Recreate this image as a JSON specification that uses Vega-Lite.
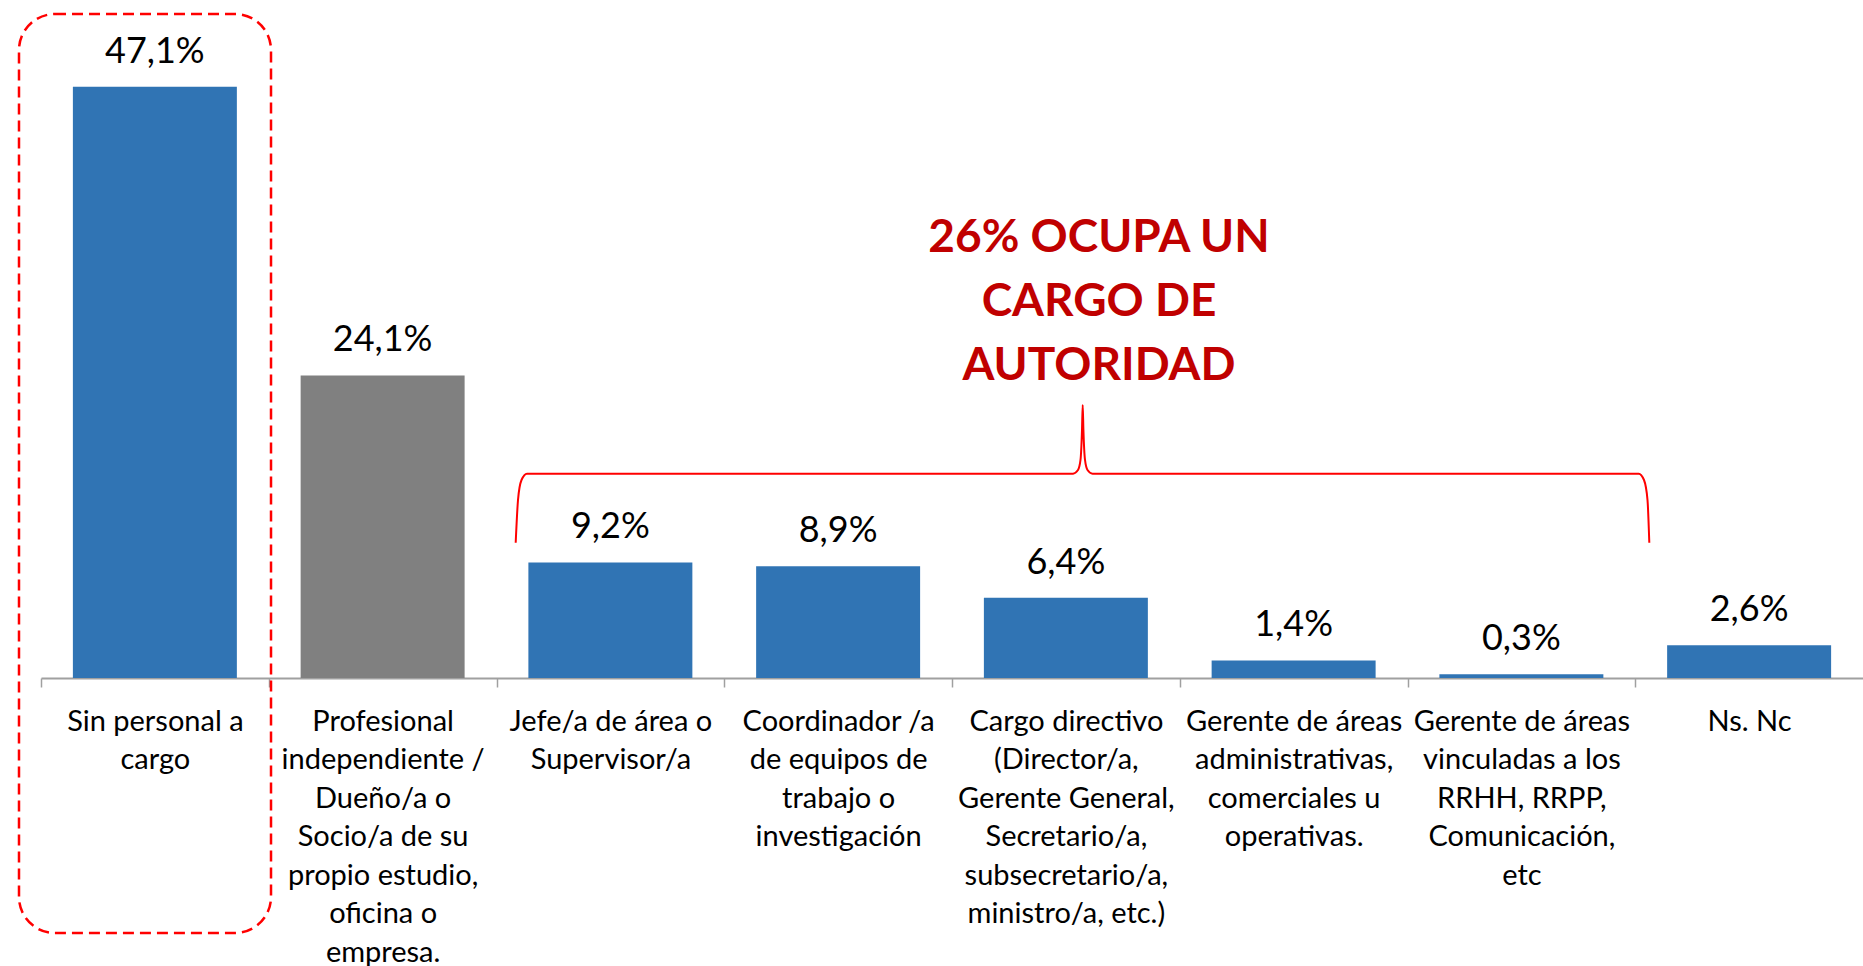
{
  "$schema": "https://vega.github.io/schema/vega-lite/v6.json",
  "width": 1822,
  "height": 678,
  "autosize": {"type": "none"},
  "padding": {"left": 41, "top": 0, "right": 0, "bottom": 288},
  "background": "white",
  "config": {
    "view": {"stroke": null},
    "font": "Lato",
    "locale": {"number": {"decimal": ",", "thousands": ".", "grouping": [3], "currency": ["$", ""]}}
  },
  "datasets": {
    "barras": [
      {"cat": "Sin personal a\ncargo", "pct": 0.471},
      {"cat": "Profesional\nindependiente /\nDueño/a o\nSocio/a de su\npropio estudio,\noficina o\nempresa.", "pct": 0.241},
      {"cat": "Jefe/a de área o\nSupervisor/a", "pct": 0.092},
      {"cat": "Coordinador /a\nde equipos de\ntrabajo o\ninvestigación", "pct": 0.089},
      {"cat": "Cargo directivo\n(Director/a,\nGerente General,\nSecretario/a,\nsubsecretario/a,\nministro/a, etc.)", "pct": 0.064},
      {"cat": "Gerente de áreas\nadministrativas,\ncomerciales u\noperativas.", "pct": 0.014},
      {"cat": "Gerente de áreas\nvinculadas a los\nRRHH, RRPP,\nComunicación,\netc", "pct": 0.003},
      {"cat": "Ns. Nc", "pct": 0.026}
    ],
    "llave": [
      {"o": 1, "u": 2.0843, "v": 0.10776},
      {"o": 2, "u": 2.0944, "v": 0.14177},
      {"o": 3, "u": 2.1098, "v": 0.15770},
      {"o": 4, "u": 2.1339, "v": 0.16272},
      {"o": 5, "u": 4.5313, "v": 0.16272},
      {"o": 6, "u": 4.5532, "v": 0.16566},
      {"o": 7, "u": 4.5642, "v": 0.17363},
      {"o": 8, "u": 4.5708, "v": 0.19752},
      {"o": 9, "u": 4.5739, "v": 0.21743},
      {"o": 10, "u": 4.5770, "v": 0.19752},
      {"o": 11, "u": 4.5840, "v": 0.17363},
      {"o": 12, "u": 4.5950, "v": 0.16566},
      {"o": 13, "u": 4.6169, "v": 0.16272},
      {"o": 14, "u": 7.0152, "v": 0.16272},
      {"o": 15, "u": 7.0384, "v": 0.15770},
      {"o": 16, "u": 7.0538, "v": 0.14177},
      {"o": 17, "u": 7.0617, "v": 0.10776}
    ]
  },
  "layer": [
    {
      "data": {"name": "barras"},
      "encoding": {
        "x": {
          "field": "cat", "type": "nominal", "sort": null,
          "scale": {"paddingInner": 0.28, "paddingOuter": 0.14},
          "axis": {
            "title": null, "labelAngle": 0, "domainColor": "#A0A0A0", "domainWidth": 2,
            "tickColor": "#A0A0A0", "tickWidth": 1.5, "tickSize": 9,
            "tickOffset": -113.875, "labelOffset": 113.875,
            "labelFont": "Lato", "labelFontSize": 29, "labelColor": "#000000",
            "labelLimit": 400, "labelPadding": 20, "labelLineHeight": 38.5,
            "labelBaseline": "top", "labelOverlap": false,
            "labelExpr": "split(datum.label, '\\n')"
          }
        },
        "y": {
          "field": "pct", "type": "quantitative",
          "scale": {"domain": [0, 0.54], "nice": false, "zero": true},
          "axis": null
        }
      },
      "layer": [
        {
          "mark": {"type": "bar"},
          "encoding": {
            "color": {
              "condition": {"test": "indexof(datum.cat, 'Profesional') === 0", "value": "#808080"},
              "value": "#3074B4"
            }
          }
        },
        {
          "mark": {"type": "text", "dy": -24, "fontSize": 36, "font": "Lato", "color": "#000000", "baseline": "alphabetic", "align": "center"},
          "encoding": {"text": {"field": "pct", "type": "quantitative", "format": ".1%"}}
        }
      ]
    },
    {
      "data": {"values": [{}]},
      "mark": {"type": "rect", "filled": false, "stroke": "#FF0000", "strokeWidth": 2.5, "strokeDash": [11, 6], "cornerRadius": 36},
      "encoding": {
        "x": {"datum": -0.0966, "type": "quantitative", "scale": {"domain": [0, 8], "nice": false, "zero": false}, "axis": null},
        "x2": {"datum": 1.0099},
        "y": {"datum": 0.52885, "type": "quantitative", "scale": {"domain": [0, 0.54], "nice": false, "zero": true}, "axis": null},
        "y2": {"datum": -0.2031}
      }
    },
    {
      "data": {"name": "llave"},
      "mark": {"type": "line", "stroke": "#FF0000", "strokeWidth": 2, "interpolate": "monotone"},
      "encoding": {
        "x": {"field": "u", "type": "quantitative", "scale": {"domain": [0, 8], "nice": false, "zero": false}, "axis": null},
        "y": {"field": "v", "type": "quantitative", "scale": {"domain": [0, 0.54], "nice": false, "zero": true}, "axis": null},
        "order": {"field": "o", "type": "quantitative"}
      }
    },
    {
      "data": {"values": [{}]},
      "mark": {"type": "text", "text": ["26% OCUPA UN", "CARGO DE", "AUTORIDAD"], "font": "Lato", "fontSize": 46, "fontWeight": "bold", "color": "#C00000", "align": "center", "baseline": "alphabetic", "lineHeight": 64},
      "encoding": {
        "x": {"datum": 4.6454, "type": "quantitative", "scale": {"domain": [0, 8], "nice": false, "zero": false}, "axis": null},
        "y": {"datum": 0.3393, "type": "quantitative", "scale": {"domain": [0, 0.54], "nice": false, "zero": true}, "axis": null}
      }
    }
  ],
  "resolve": {"scale": {"x": "independent"}}
}
